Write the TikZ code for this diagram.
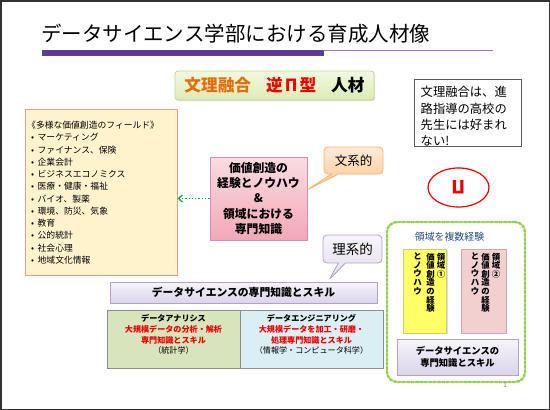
\documentclass[tikz,border=0pt]{standalone}
\usepackage{fontspec}
\setmainfont{Noto Sans CJK JP}
\usetikzlibrary{arrows.meta, positioning, shapes.geometric, shapes.callouts, shadows}
\definecolor{framegray}{RGB}{50,50,50}
\definecolor{titlepurple}{RGB}{112,48,160}
\definecolor{titleblue}{RGB}{55,85,150}
\definecolor{titlelilac}{RGB}{165,105,205}
\definecolor{bunriorange}{RGB}{228,108,10}
\definecolor{gyakured}{RGB}{235,0,0}
\definecolor{greentop}{RGB}{242,248,224}
\definecolor{greenbot}{RGB}{221,236,180}
\definecolor{greenline}{RGB}{196,215,155}
\definecolor{creamfill}{RGB}{255,243,206}
\definecolor{salmonline}{RGB}{240,160,130}
\definecolor{pinktop}{RGB}{251,220,226}
\definecolor{pinkbot}{RGB}{242,168,182}
\definecolor{orchidline}{RGB}{210,140,190}
\definecolor{orangetop}{RGB}{254,236,216}
\definecolor{orangebot}{RGB}{250,196,140}
\definecolor{orangeline}{RGB}{248,180,110}
\definecolor{lavtop}{RGB}{246,244,251}
\definecolor{lavbot}{RGB}{218,212,234}
\definecolor{lavline}{RGB}{178,162,199}
\definecolor{anagreen}{RGB}{216,228,188}
\definecolor{engblue}{RGB}{219,238,244}
\definecolor{cellgray}{RGB}{140,140,140}
\definecolor{dotgreen}{RGB}{146,208,80}
\definecolor{arrowgreen}{RGB}{0,176,80}
\definecolor{labelblue}{RGB}{31,73,125}
\definecolor{areayellow}{RGB}{255,255,102}
\definecolor{areayline}{RGB}{205,205,130}
\definecolor{areapink}{RGB}{242,208,208}
\definecolor{areapline}{RGB}{210,170,170}
\newcommand{\fielditem}{\hspace*{4pt}•\hspace{3.5pt}}

\begin{document}
\begin{tikzpicture}[x=1pt, y=-1pt,
    softshadow/.style={drop shadow={opacity=0.25, shadow xshift=1.2pt, shadow yshift=-1.2pt}},
    panel/.style={draw, line width=0.8pt, inner sep=0pt},
    callbox/.style={rectangle callout, rounded corners=4pt, draw, line width=0.8pt,
                    callout pointer width=7pt, minimum width=59, minimum height=27,
                    font=\fontsize{12.5}{12.5}\selectfont},
    tate/.style={anchor=north, inner sep=0pt, align=center,
                 font=\bfseries\fontsize{8.4}{8.6}\selectfont},
    >=Stealth]
    \useasboundingbox (0,0) rectangle (550,410);
    \draw[framegray, line width=1.5pt] (0.75,0.75) rectangle (549.25,409.25);

    % title
    \node[anchor=west, inner sep=0pt, font=\fontsize{20.5}{20.5}\selectfont] (title) at (41,34)
      {データサイエンス学部における育成人材像};
    \fill[titlepurple, draw=titleblue, line width=0.6pt] (42,50) rectangle (323,55);
    \draw[titlelilac, line width=0.8pt] (323,50.5) -- (493,50.5);

    \node[panel, draw=greenline, rounded corners=3pt, top color=greentop, bottom color=greenbot,
          minimum width=199, minimum height=29, softshadow,
          font=\bfseries\fontsize{16.7}{16.7}\selectfont] (jinzai) at (274.5,85.5)
      {\textcolor{bunriorange}{文理融合}\hspace{15pt}\textcolor{gyakured}{逆\makebox[1em]{Π}型}\hspace{15pt}人材};

    \node[panel, draw=black!65, fill=white, minimum width=107, minimum height=67,
          anchor=north west] (note) at (414,79) {};
    \node[anchor=north west, inner sep=0pt, align=left, font=\fontsize{12.3}{16.3}\selectfont]
      (notetext) at (420.5,86.2) {文理融合は、進\\路指導の高校の\\先生には好まれ\\ない!};

    % fields
    \node[panel, draw=salmonline, fill=creamfill, minimum width=152, minimum height=166]
      (field) at (101,192) {};
    \node[anchor=north west, inner sep=0pt, align=left, font=\fontsize{8.8}{12.25}\selectfont]
      (fieldlist) at (27,121.1) {《多様な価値創造のフィールド》\\
        \fielditem マーケティング\\\fielditem ファイナンス、保険\\\fielditem 企業会計\\
        \fielditem ビジネスエコノミクス\\\fielditem 医療・健康・福祉\\\fielditem バイオ、製薬\\
        \fielditem 環境、防災、気象\\\fielditem 教育\\\fielditem 公的統計\\
        \fielditem 社会心理\\\fielditem 地域文化情報};

    \node[panel, draw=orchidline, top color=pinktop, bottom color=pinkbot,
          minimum width=97, minimum height=83, align=center,
          font=\bfseries\fontsize{11.8}{15.3}\selectfont] (kachi) at (258.5,198.5)
      {価値創造の\\経験とノウハウ\\\&\\領域における\\専門知識};
    \draw[->, arrowgreen, dotted, line width=1.3pt, >={Straight Barb[length=4pt, width=7pt]}]
      (kachi.west) -- (kachi.west -| field.east);

    \coordinate (bunkeitip) at (307,190);
    \node[callbox, draw=orangeline, top color=orangetop, bottom color=orangebot,
          callout absolute pointer={(bunkeitip)}] (bunkei) at (353.5,160.5) {文系的};
    \coordinate (rikeitip) at (329,280);
    \node[callbox, draw=lavline, top color=lavtop, bottom color=lavbot!80,
          minimum height=28, font=\fontsize{13.5}{13.5}\selectfont,
          callout absolute pointer={(rikeitip)}] (rikei) at (352.5,249) {理系的};

    % data science
    \node[panel, draw=lavline, top color=lavtop, bottom color=lavbot, softshadow,
          minimum width=267, minimum height=21,
          font=\bfseries\fontsize{10.8}{10.8}\selectfont] (dsbar) at (243.5,292.5)
      {データサイエンスの専門知識とスキル};
    \node[panel, draw=cellgray, fill=anagreen, minimum width=133, minimum height=58, softshadow]
      (ana) at (173.5,339) {};
    \node[panel, draw=cellgray, fill=engblue, minimum width=143, minimum height=58, softshadow]
      (eng) at (311.5,339) {};
    \node[inner sep=0pt, align=center, font=\fontsize{8.1}{10.8}\selectfont] (anatext) at (173.5,334.5)
      {\textbf{データアナリシス}\\\textcolor{gyakured}{\bfseries 大規模データの分析・解析}\\
       \textcolor{gyakured}{\bfseries 専門知識とスキル}\\（統計学）};
    \node[inner sep=0pt, align=center, font=\fontsize{8.1}{10.8}\selectfont] (engtext) at (311.5,334.5)
      {\textbf{データエンジニアリング}\\\textcolor{gyakured}{\bfseries 大規模データを加工・研磨・}\\
       \textcolor{gyakured}{\bfseries 処理専門知識とスキル}\\（情報学・コンピュータ科学）};

    % inverted pi
    \node[ellipse, draw=gyakured, line width=1.2pt, fill=white, minimum width=61, minimum height=39,
          text=gyakured, font=\bfseries\fontsize{18}{18}\selectfont] (gyaku) at (458.5,187.5)
      {\rotatebox{180}{Π}};

    % multiple areas
    \node[draw=dotgreen, dotted, line width=2.4pt, line cap=round, rounded corners=10pt,
          minimum width=138, minimum height=160] (multi) at (456,302) {};
    \node[inner sep=0pt, text=labelblue, font=\fontsize{9.9}{9.9}\selectfont] (multilabel)
      at (449.5,237) {領域を複数経験};
    \node[panel, draw=areayline, fill=areayellow, minimum width=43.4, minimum height=84, softshadow]
      (area1) at (425,291) {};
    \node[panel, draw=areapline, fill=areapink, minimum width=44.3, minimum height=84, softshadow]
      (area2) at (483.85,291) {};
    \foreach \x/\txt [count=\i] in {441/{領\\域\\①}, 430.5/{価\\値\\創\\造\\の\\経\\験},
                                    417.5/{と\\ノ\\ウ\\ハ\\ウ}}
      \node[tate] (a1col\i) at (\x,252.7) {\txt};
    \foreach \x/\txt [count=\i] in {496/{領\\域\\②}, 485.5/{価\\値\\創\\造\\の\\経\\験},
                                    475/{と\\ノ\\ウ\\ハ\\ウ}}
      \node[tate] (a2col\i) at (\x,252.7) {\txt};
    \node[panel, draw=lavline, top color=lavtop, bottom color=lavbot, softshadow,
          minimum width=121, minimum height=36, align=center,
          font=\bfseries\fontsize{9.3}{12}\selectfont] (dsskill) at (457.5,357)
      {データサイエンスの\\専門知識とスキル};
    \node[inner sep=0pt, text=black!45, font=\fontsize{7}{7}\selectfont] (pageno) at (505,385) {1};
\end{tikzpicture}
\end{document}
